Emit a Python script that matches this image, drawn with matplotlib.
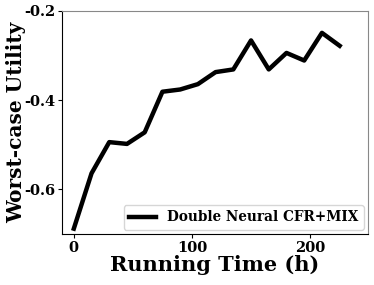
import matplotlib
matplotlib.use('Agg')
import matplotlib.pyplot as plt

# Running time (hours) and worst-case utility
hours = [0, 15, 30, 45, 60, 75, 90, 105, 120, 135, 150, 165, 180, 195, 210, 225]
utility = [-0.688, -0.564, -0.494, -0.498, -0.472, -0.381, -0.376, -0.364,
           -0.337, -0.331, -0.266, -0.331, -0.294, -0.311, -0.249, -0.278]
series_name = 'Double Neural CFR+MIX'

plt.rcParams['font.family'] = 'DejaVu Serif'
plt.rcParams['font.weight'] = 'bold'

fig = plt.figure(figsize=(3.74, 2.85), dpi=100)
ax = fig.add_axes([62 / 374, 1 - 234 / 285, 306 / 374, 223 / 285])

ax.plot(hours, utility, color='black', linewidth=3.2, label=series_name)

ax.set_xlim(-10, 249)
ax.set_ylim(-0.7, -0.2)
ax.set_xticks([0, 100, 200])
ax.set_yticks([-0.6, -0.4, -0.2])
ax.set_yticklabels(['-0.6', '-0.4', '-0.2'])
ax.tick_params(labelsize=10.5, length=3, pad=2)
for lab in ax.get_xticklabels() + ax.get_yticklabels():
    lab.set_fontweight('bold')

ax.set_xlabel('Running Time (h)', fontsize=15, fontweight='bold', labelpad=0)
ax.set_ylabel('Worst-case Utility', fontsize=14.5, fontweight='bold')
ax.yaxis.set_label_coords(-0.118, 0.5)

for side in ['top', 'right']:
    ax.spines[side].set_color('#888888')

ax.legend(loc='lower right', prop={'size': 9.8, 'weight': 'bold'},
          handlelength=2, borderaxespad=0.3)

fig.savefig('out.png', dpi=100)
